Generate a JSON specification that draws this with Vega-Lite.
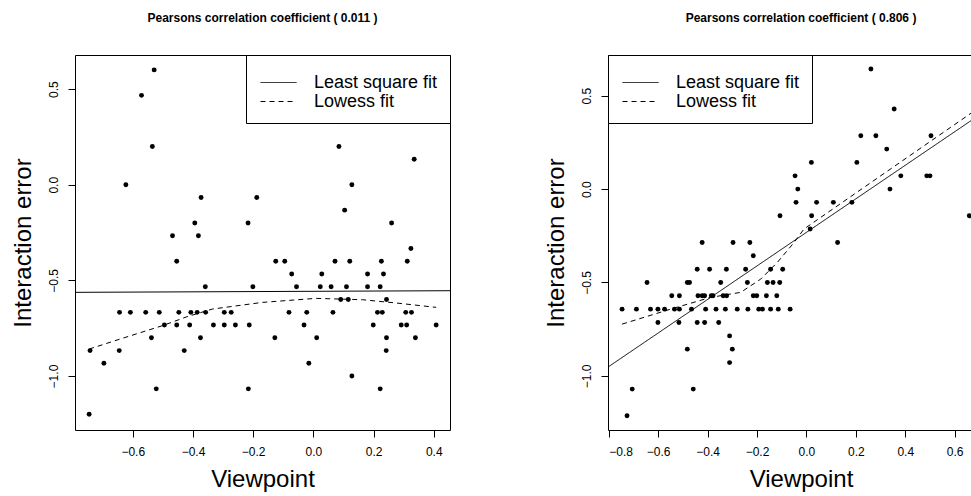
{
  "$schema": "https://vega.github.io/schema/vega-lite/v6.json",
  "padding": {"left": 10, "top": 11, "right": 0, "bottom": 0},
  "background": "white",
  "config": {
    "font": "Liberation Sans",
    "view": {"stroke": "black", "strokeWidth": 1},
    "axis": {
      "grid": false,
      "tickColor": "black",
      "tickSize": 7,
      "labelFontSize": 12,
      "labelColor": "black",
      "labelFont": "Liberation Sans",
      "titleFontSize": 24,
      "titleFontWeight": "normal",
      "titleColor": "black",
      "titleFont": "Liberation Sans",
      "domainColor": "black"
    },
    "legend": {
      "orient": "top-right", "offset": 0, "padding": 12, "strokeColor": "black", "fillColor": "white",
      "labelFontSize": 18, "labelFont": "Liberation Sans", "labelColor": "black",
      "titleFontSize": 4, "titlePadding": 2, "titleColor": "white",
      "symbolType": "M-2,0L2,0", "symbolSize": 324, "symbolStrokeWidth": 1, "symbolStrokeColor": "black",
      "symbolFillColor": "transparent", "symbolOffset": 11, "labelOffset": 26, "rowPadding": -2
    },
    "title": {"fontSize": 12, "fontWeight": "bold", "color": "black", "font": "Liberation Sans", "offset": 30}
  },
  "datasets": {
    "left_pts": [
      {"x": -0.529, "y": 0.600}, {"x": -0.571, "y": 0.467}, {"x": -0.535, "y": 0.200}, {"x": 0.085, "y": 0.200},
      {"x": 0.335, "y": 0.133}, {"x": -0.623, "y": 0.000}, {"x": 0.128, "y": 0.000}, {"x": -0.373, "y": -0.067},
      {"x": -0.188, "y": -0.067}, {"x": 0.104, "y": -0.133}, {"x": -0.394, "y": -0.200}, {"x": -0.217, "y": -0.200},
      {"x": 0.260, "y": -0.200}, {"x": -0.468, "y": -0.267}, {"x": -0.382, "y": -0.267}, {"x": 0.324, "y": -0.333},
      {"x": -0.454, "y": -0.400}, {"x": -0.125, "y": -0.400}, {"x": -0.095, "y": -0.400}, {"x": 0.072, "y": -0.400},
      {"x": 0.121, "y": -0.400}, {"x": 0.226, "y": -0.400}, {"x": 0.312, "y": -0.400},
      {"x": -0.072, "y": -0.467}, {"x": 0.028, "y": -0.467}, {"x": 0.180, "y": -0.467}, {"x": 0.233, "y": -0.467},
      {"x": -0.359, "y": -0.533}, {"x": -0.201, "y": -0.533}, {"x": -0.056, "y": -0.533}, {"x": 0.023, "y": -0.533},
      {"x": 0.059, "y": -0.533}, {"x": 0.110, "y": -0.533}, {"x": 0.180, "y": -0.533}, {"x": 0.222, "y": -0.533},
      {"x": 0.091, "y": -0.600}, {"x": 0.116, "y": -0.600}, {"x": 0.243, "y": -0.600},
      {"x": -0.644, "y": -0.667}, {"x": -0.608, "y": -0.667}, {"x": -0.557, "y": -0.667}, {"x": -0.512, "y": -0.667},
      {"x": -0.447, "y": -0.667}, {"x": -0.407, "y": -0.667}, {"x": -0.386, "y": -0.667}, {"x": -0.358, "y": -0.667},
      {"x": -0.296, "y": -0.667}, {"x": -0.273, "y": -0.667}, {"x": -0.081, "y": -0.667}, {"x": -0.022, "y": -0.667},
      {"x": 0.065, "y": -0.667}, {"x": 0.213, "y": -0.667}, {"x": 0.229, "y": -0.667}, {"x": 0.307, "y": -0.667},
      {"x": 0.326, "y": -0.667},
      {"x": -0.495, "y": -0.733}, {"x": -0.454, "y": -0.733}, {"x": -0.411, "y": -0.733}, {"x": -0.332, "y": -0.733},
      {"x": -0.296, "y": -0.733}, {"x": -0.259, "y": -0.733}, {"x": -0.213, "y": -0.733}, {"x": -0.031, "y": -0.733},
      {"x": 0.199, "y": -0.733}, {"x": 0.292, "y": -0.733}, {"x": 0.310, "y": -0.733}, {"x": 0.408, "y": -0.733},
      {"x": -0.538, "y": -0.800}, {"x": -0.375, "y": -0.800}, {"x": -0.128, "y": -0.800}, {"x": 0.011, "y": -0.800},
      {"x": 0.243, "y": -0.800}, {"x": 0.339, "y": -0.800},
      {"x": -0.742, "y": -0.867}, {"x": -0.645, "y": -0.867}, {"x": -0.429, "y": -0.867}, {"x": 0.242, "y": -0.867},
      {"x": -0.696, "y": -0.933}, {"x": -0.015, "y": -0.933},
      {"x": 0.128, "y": -1.000},
      {"x": -0.522, "y": -1.067}, {"x": -0.216, "y": -1.067}, {"x": 0.222, "y": -1.067},
      {"x": -0.745, "y": -1.200}
    ],
    "right_pts": [
      {"x": 0.261, "y": 0.643}, {"x": 0.355, "y": 0.429}, {"x": 0.220, "y": 0.286}, {"x": 0.281, "y": 0.286},
      {"x": 0.504, "y": 0.286}, {"x": 0.325, "y": 0.214}, {"x": 0.020, "y": 0.143}, {"x": 0.204, "y": 0.143},
      {"x": -0.046, "y": 0.071}, {"x": 0.382, "y": 0.071}, {"x": 0.487, "y": 0.071}, {"x": 0.500, "y": 0.071},
      {"x": -0.035, "y": 0.000}, {"x": 0.338, "y": 0.000},
      {"x": -0.042, "y": -0.071}, {"x": 0.041, "y": -0.071}, {"x": 0.109, "y": -0.071}, {"x": 0.184, "y": -0.071},
      {"x": -0.107, "y": -0.143}, {"x": 0.021, "y": -0.143}, {"x": 0.659, "y": -0.143},
      {"x": 0.015, "y": -0.214},
      {"x": -0.422, "y": -0.286}, {"x": -0.297, "y": -0.286}, {"x": -0.229, "y": -0.286}, {"x": 0.126, "y": -0.286},
      {"x": -0.215, "y": -0.357},
      {"x": -0.442, "y": -0.429}, {"x": -0.392, "y": -0.429}, {"x": -0.324, "y": -0.429}, {"x": -0.246, "y": -0.429},
      {"x": -0.145, "y": -0.429}, {"x": -0.096, "y": -0.429},
      {"x": -0.645, "y": -0.500}, {"x": -0.482, "y": -0.500}, {"x": -0.473, "y": -0.500}, {"x": -0.347, "y": -0.500},
      {"x": -0.239, "y": -0.500}, {"x": -0.158, "y": -0.500}, {"x": -0.135, "y": -0.500}, {"x": -0.108, "y": -0.500},
      {"x": -0.545, "y": -0.571}, {"x": -0.514, "y": -0.571}, {"x": -0.439, "y": -0.571}, {"x": -0.422, "y": -0.571},
      {"x": -0.412, "y": -0.571}, {"x": -0.385, "y": -0.571}, {"x": -0.378, "y": -0.571}, {"x": -0.337, "y": -0.571},
      {"x": -0.323, "y": -0.571}, {"x": -0.215, "y": -0.571}, {"x": -0.201, "y": -0.571}, {"x": -0.162, "y": -0.571},
      {"x": -0.120, "y": -0.571},
      {"x": -0.746, "y": -0.643}, {"x": -0.688, "y": -0.643}, {"x": -0.631, "y": -0.643}, {"x": -0.601, "y": -0.643},
      {"x": -0.574, "y": -0.643}, {"x": -0.534, "y": -0.643}, {"x": -0.514, "y": -0.643}, {"x": -0.465, "y": -0.643},
      {"x": -0.408, "y": -0.643}, {"x": -0.366, "y": -0.643}, {"x": -0.328, "y": -0.643}, {"x": -0.280, "y": -0.643},
      {"x": -0.237, "y": -0.643}, {"x": -0.193, "y": -0.643}, {"x": -0.178, "y": -0.643}, {"x": -0.145, "y": -0.643},
      {"x": -0.114, "y": -0.643}, {"x": -0.066, "y": -0.643},
      {"x": -0.601, "y": -0.714}, {"x": -0.516, "y": -0.714}, {"x": -0.442, "y": -0.714}, {"x": -0.412, "y": -0.714},
      {"x": -0.355, "y": -0.714},
      {"x": -0.311, "y": -0.786},
      {"x": -0.482, "y": -0.857}, {"x": -0.300, "y": -0.857},
      {"x": -0.311, "y": -0.929},
      {"x": -0.705, "y": -1.071}, {"x": -0.458, "y": -1.071},
      {"x": -0.726, "y": -1.214}
    ],
    "left_fit": [
      {"fit": "Least square fit", "x": -0.792, "y": -0.5625},
      {"fit": "Least square fit", "x": 0.454, "y": -0.554},
      {"fit": "Lowess fit", "x": -0.745, "y": -0.859},
      {"fit": "Lowess fit", "x": -0.645, "y": -0.808},
      {"fit": "Lowess fit", "x": -0.502, "y": -0.737},
      {"fit": "Lowess fit", "x": -0.420, "y": -0.690},
      {"fit": "Lowess fit", "x": -0.336, "y": -0.650},
      {"fit": "Lowess fit", "x": -0.169, "y": -0.615},
      {"fit": "Lowess fit", "x": 0.008, "y": -0.594},
      {"fit": "Lowess fit", "x": 0.163, "y": -0.601},
      {"fit": "Lowess fit", "x": 0.274, "y": -0.618},
      {"fit": "Lowess fit", "x": 0.408, "y": -0.641}
    ],
    "right_fit": [
      {"fit": "Least square fit", "x": -0.803, "y": -0.953},
      {"fit": "Least square fit", "x": 0.670, "y": 0.370},
      {"fit": "Lowess fit", "x": -0.746, "y": -0.723},
      {"fit": "Lowess fit", "x": -0.550, "y": -0.643},
      {"fit": "Lowess fit", "x": -0.388, "y": -0.580},
      {"fit": "Lowess fit", "x": -0.266, "y": -0.553},
      {"fit": "Lowess fit", "x": -0.185, "y": -0.482},
      {"fit": "Lowess fit", "x": -0.118, "y": -0.393},
      {"fit": "Lowess fit", "x": -0.050, "y": -0.286},
      {"fit": "Lowess fit", "x": -0.010, "y": -0.214},
      {"fit": "Lowess fit", "x": 0.200, "y": -0.021},
      {"fit": "Lowess fit", "x": 0.500, "y": 0.254},
      {"fit": "Lowess fit", "x": 0.670, "y": 0.410}
    ]
  },
  "spacing": 93,
  "hconcat": [
    {
      "title": {"text": "Pearsons correlation coefficient ( 0.011 )"},
      "width": 375,
      "height": 375,
      "layer": [
        {
          "data": {"name": "left_pts"},
          "mark": {"type": "circle", "color": "black", "opacity": 1, "size": 24},
          "encoding": {
            "x": {"field": "x", "type": "quantitative", "scale": {"domain": [-0.792, 0.454], "nice": false, "zero": false},
                  "axis": {"title": "Viewpoint", "values": [-0.6, -0.4, -0.2, 0, 0.2, 0.4], "format": ".1f", "domain": false, "labelPadding": 9, "titlePadding": 10}},
            "y": {"field": "y", "type": "quantitative", "scale": {"domain": [-1.282, 0.678], "nice": false, "zero": false},
                  "axis": {"title": "Interaction error", "values": [-1, -0.5, 0, 0.5], "format": ".1f", "domain": false, "labelAngle": -90, "labelAlign": "center", "labelBaseline": "bottom", "labelPadding": 8, "titlePadding": 12}}
          }
        },
        {
          "data": {"name": "left_fit"},
          "mark": {"type": "line", "color": "black", "strokeWidth": 1, "clip": true},
          "encoding": {
            "x": {"field": "x", "type": "quantitative"},
            "y": {"field": "y", "type": "quantitative"},
            "order": {"field": "x", "type": "quantitative"},
            "strokeDash": {"field": "fit", "type": "nominal", "title": " ",
              "scale": {"domain": ["Least square fit", "Lowess fit"], "range": [[1, 0], [5, 4]]},
              "legend": {"orient": "top-right"}}
          }
        }
      ]
    },
    {
      "title": {"text": "Pearsons correlation coefficient ( 0.806 )", "dx": 11},
      "width": 364,
      "height": 375,
      "view": {"stroke": null},
      "resolve": {"axis": {"x": "independent"}},
      "layer": [
        {
          "data": {"name": "right_pts"},
          "mark": {"type": "circle", "color": "black", "opacity": 1, "size": 24},
          "encoding": {
            "x": {"field": "x", "type": "quantitative", "scale": {"domain": [-0.803, 0.670], "nice": false, "zero": false},
                  "axis": {"title": "Viewpoint", "values": [-0.8, -0.6, -0.4, -0.2, 0, 0.2, 0.4, 0.6], "format": ".1f", "domain": true, "labelPadding": 9, "titlePadding": 10, "titleX": 193}},
            "y": {"field": "y", "type": "quantitative", "scale": {"domain": [-1.29, 0.718], "nice": false, "zero": false},
                  "axis": {"title": "Interaction error", "values": [-1, -0.5, 0, 0.5], "format": ".1f", "domain": true, "labelAngle": -90, "labelAlign": "center", "labelBaseline": "bottom", "labelPadding": 8, "titlePadding": 12}}
          }
        },
        {
          "data": {"name": "right_fit"},
          "mark": {"type": "line", "color": "black", "strokeWidth": 1, "clip": true},
          "encoding": {
            "x": {"field": "x", "type": "quantitative",
                  "axis": {"orient": "top", "title": null, "labels": false, "ticks": false, "domain": true}},
            "y": {"field": "y", "type": "quantitative"},
            "order": {"field": "x", "type": "quantitative"},
            "strokeDash": {"field": "fit", "type": "nominal", "title": " ",
              "scale": {"domain": ["Least square fit", "Lowess fit"], "range": [[1, 0], [5, 4]]},
              "legend": {"orient": "top-left"}}
          }
        }
      ]
    }
  ]
}
